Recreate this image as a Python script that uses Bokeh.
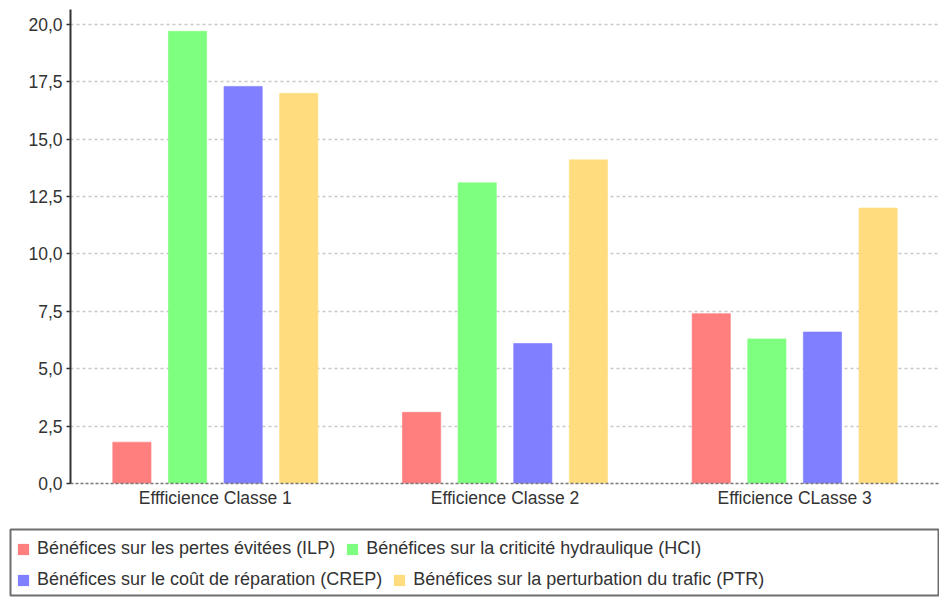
from bokeh.plotting import figure
from bokeh.models import (FactorRange, Range1d, FixedTicker, CustomJSTickFormatter,
                          ColumnDataSource, Legend, LegendItem)
from bokeh.transform import dodge
from bokeh.layouts import column
from bokeh.embed import file_html
from bokeh.resources import INLINE

# ---- data ----
categories = ["Effficience Classe 1", "Efficience Classe 2", "Efficience CLasse 3"]
series_names = [
    "Bénéfices sur les pertes évitées (ILP)",
    "Bénéfices sur la criticité hydraulique (HCI)",
    "Bénéfices sur le coût de réparation (CREP)",
    "Bénéfices sur la perturbation du trafic (PTR)",
]
ilp = [1.8, 3.1, 7.4]
hci = [19.7, 13.1, 6.3]
crep = [17.3, 6.1, 6.6]
ptr = [17.0, 14.1, 12.0]
y_ticks = [0, 2.5, 5, 7.5, 10, 12.5, 15, 17.5, 20]

colors = ["#FF7F7F", "#7FFF7F", "#7F7FFF", "#FFDD7F"]
offsets = [-0.288, -0.096, 0.096, 0.288]
bar_w = 0.132
FONT = "Liberation Sans"

src = ColumnDataSource(dict(cat=categories, ilp=ilp, hci=hci, crep=crep, ptr=ptr))
keys = ["ilp", "hci", "crep", "ptr"]

p = figure(width=939, height=527, x_range=FactorRange(factors=categories),
           y_range=Range1d(0, 20.65), output_backend="svg", toolbar_location=None,
           min_border_left=70, min_border_right=0, min_border_top=9, min_border_bottom=44)
p.frame_align = False
p.outline_line_color = None
p.background_fill_color = "white"
p.border_fill_color = "white"

for k, c, off in zip(keys, colors, offsets):
    p.vbar(x=dodge("cat", off, range=p.x_range), top=k, width=bar_w, source=src,
           fill_color=c, line_color=c, line_alpha=0.6)

p.xgrid.grid_line_color = None
p.ygrid.grid_line_color = "#c8c8c8"
p.ygrid.grid_line_dash = "3 3"
p.ygrid.grid_line_width = 1.5

yax = p.yaxis[0]
yax.ticker = FixedTicker(ticks=y_ticks)
yax.formatter = CustomJSTickFormatter(code="return tick.toFixed(1).replace('.', ',');")
yax.axis_line_color = "#333333"
yax.axis_line_width = 2
yax.major_tick_line_color = "#333333"
yax.major_tick_line_width = 1.5
yax.major_tick_out = 4
yax.major_tick_in = 0
yax.minor_tick_line_color = None
yax.major_label_text_font = FONT
yax.major_label_text_font_size = "17.5px"
yax.major_label_text_color = "#333333"
yax.major_label_standoff = 4

xax = p.xaxis[0]
xax.axis_line_color = "#777777"
xax.axis_line_dash = "3 2"
xax.axis_line_width = 1.5
xax.major_tick_line_color = None
xax.major_tick_out = 0
xax.major_tick_in = 0
xax.minor_tick_line_color = None
xax.major_label_text_font = FONT
xax.major_label_text_font_size = "17.5px"
xax.major_label_text_color = "#333333"
xax.major_label_standoff = 4

# ---- legend panel ----
lf = figure(width=939, height=70, x_range=FactorRange(factors=categories), y_range=Range1d(0, 1),
            output_backend="svg", toolbar_location=None,
            x_axis_location=None, y_axis_location=None,
            min_border_left=10, min_border_right=0, min_border_top=2, min_border_bottom=2)
lf.frame_align = False
lf.xgrid.grid_line_color = None
lf.ygrid.grid_line_color = None
lf.outline_line_color = "#6e6e6e"
lf.outline_line_width = 2

# hidden copies of the series, used only to give the legend its swatches
dummies = []
for k, c in zip(keys, colors):
    r = lf.vbar(x="cat", top=k, width=0.1, source=src, fill_color=c, line_color=None,
                visible=False)
    dummies.append(r)

def make_legend(idx, loc):
    return Legend(items=[LegendItem(label=series_names[i], renderers=[dummies[i]]) for i in idx],
                  location=loc, orientation="horizontal",
                  glyph_width=14, glyph_height=14, label_standoff=7, spacing=10,
                  padding=0, margin=0, border_line_color=None, background_fill_alpha=0,
                  inactive_fill_alpha=0,
                  label_text_font=FONT, label_text_font_size="18px",
                  label_text_color="#333333", label_height=14)

lf.add_layout(make_legend([0, 1], (6, 36)))
lf.add_layout(make_legend([2, 3], (6, 5)))

layout = column(p, lf, spacing=0)
open("out.html", "w").write(file_html(layout, INLINE))
